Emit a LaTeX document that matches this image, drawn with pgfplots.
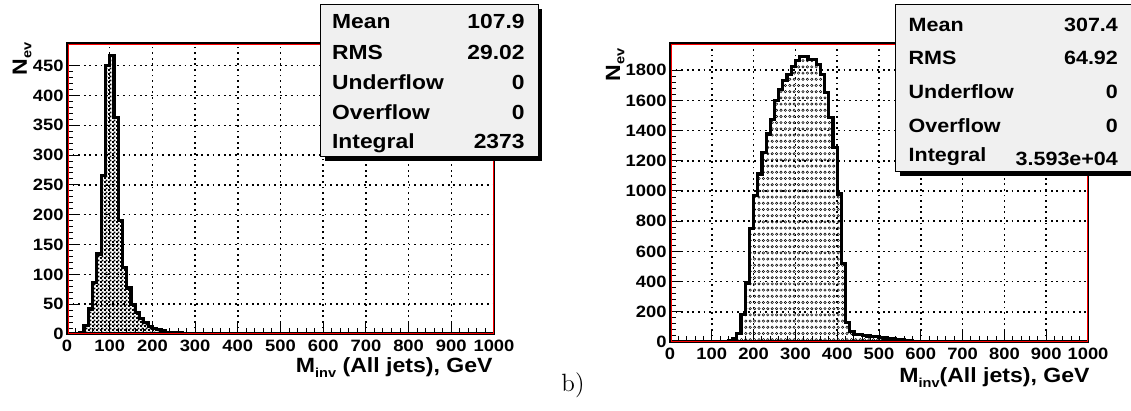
\documentclass[border=0pt]{standalone}
\usepackage{pgfplots}
\pgfplotsset{compat=1.18}
\usepackage{fontspec}
\usetikzlibrary{patterns}
\newfontfamily\rootfont{Liberation Sans}[FakeStretch=1.12]
\definecolor{statbg}{RGB}{240,240,240}

\newcommand\rf[1]{\rootfont\bfseries\fontsize{#1}{#1}\selectfont}
\newcommand\sub[1]{\raisebox{-2.2pt}{\fontsize{6.5}{7}\selectfont #1}}

% ROOT-like fill styles
\pgfdeclarepatternformonly{rootcheck}{\pgfpointorigin}{\pgfqpoint{2pt}{2pt}}{\pgfqpoint{2pt}{2pt}}{%
  \pgfpathrectangle{\pgfpointorigin}{\pgfqpoint{1.1pt}{1.1pt}}%
  \pgfpathrectangle{\pgfqpoint{1pt}{1pt}}{\pgfqpoint{1.1pt}{1.1pt}}%
  \pgfusepath{fill}}
\pgfdeclarepatternformonly{rootcirc}{\pgfqpoint{-0.1pt}{-0.1pt}}{\pgfqpoint{2.4pt}{3.2pt}}{\pgfqpoint{2.2pt}{3.1pt}}{%
  \pgfsetlinewidth{0.25pt}%
  \pgfpathcircle{\pgfqpoint{1.1pt}{1.55pt}}{0.6pt}%
  \pgfusepath{stroke}}

\pgfplotsset{
  rootaxis/.style={
    scale only axis, anchor=south west,
    xmin=0, xmax=1000, ymin=0,
    xtick={0,100,...,1000},
    minor x tick num=4, minor y tick num=4,
    tick pos=left, tick align=inside,
    major tick length=6pt, minor tick length=3pt,
    tick style={black, line width=0.5pt},
    grid=major,
    major grid style={black, line width=0.75pt, dash pattern=on 0.9pt off 1.9pt},
    axis line style={black, line width=1.3pt},
    tick label style={font=\rf{8.2}, inner sep=1.5pt},
    xticklabel style={yshift=-1.2pt},
    /pgf/number format/assume math mode=true,
    /pgf/number format/1000 sep={},
    after end axis/.code={\draw[red, line width=0.3pt]
      ([shift={(0.45pt,0.45pt)}]rel axis cs:0,0) rectangle ([shift={(-0.45pt,-0.45pt)}]rel axis cs:1,1);},
  },
}

\begin{document}
\begin{tikzpicture}
\begin{axis}[rootaxis, at={(33.5pt,38.5pt)}, width=213.5pt, height=145.5pt,
  ymax=488, ytick={0,50,...,450}]
\addplot[const plot, draw=black, line width=1.6pt, pattern=rootcheck, pattern color=black]
  coordinates {(0,0) (20,1) (30,2) (40,14) (50,42) (60,86) (70,134) (80,266) (90,450)
  (100,467) (110,363) (120,190) (130,111) (140,77) (150,50) (160,36) (170,26) (180,19)
  (190,13) (200,9) (210,7) (220,5) (230,3) (240,3) (250,2) (260,2) (270,1) (280,1)
  (290,1) (300,1) (310,0) (1000,0)} \closedcycle;
\end{axis}

\begin{axis}[rootaxis, at={(335pt,34.5pt)}, width=209pt, height=149.5pt,
  ymax=1980, ytick={0,200,...,1800}]
\addplot[const plot, draw=black, line width=1.6pt, pattern=rootcirc, pattern color=black]
  coordinates {(0,0) (130,3) (140,8) (150,25) (160,55) (170,180) (180,390) (190,749)
  (200,969) (210,1112) (220,1256) (230,1377) (240,1472) (250,1601) (260,1674) (270,1734)
  (280,1773) (290,1822) (300,1862) (310,1888) (320,1888) (330,1873) (340,1873) (350,1835)
  (360,1773) (370,1652) (380,1487) (390,1289) (400,980) (410,518) (420,130) (430,68)
  (440,52) (450,48) (460,44) (470,40) (480,37) (490,34) (500,30) (510,27) (520,24)
  (530,21) (540,18) (550,14) (560,11) (570,8) (580,5) (590,3) (600,0) (1000,0)} \closedcycle;
\end{axis}

\begin{scope}[shift={(0,205.5pt)}, x=0.5pt, y=-0.5pt]
  % axis titles
  \node[rotate=90, anchor=base east, inner sep=0pt, font=\rf{10.3}] at (27,42) {N\sub{ev}};
  \node[rotate=90, anchor=base east, inner sep=0pt, font=\rf{10.3}] at (620,48) {N\sub{ev}};
  \node[anchor=base east, inner sep=0pt, font=\rf{10.3}] at (493,373) {M\sub{inv} (All jets), GeV};
  \node[anchor=base east, inner sep=0pt, font=\rf{10.3}] at (1090,383) {M\sub{inv}(All jets), GeV};
  \node[anchor=base west, inner sep=0pt, font=\fontsize{12.5}{15}\selectfont] at (561,392) {b)};
  % stats box, left
  \fill[black] (324.7,9) rectangle (541.7,161);
  \filldraw[fill=statbg, draw=black, line width=0.5pt] (320.7,5) rectangle (538,157);
  \foreach \t/\v/\yy in {Mean/107.9/29, RMS/29.02/60, Underflow/0/90, Overflow/0/120, Integral/2373/149} {
    \node[anchor=base west, inner sep=0pt, font=\rf{10.2}] at (331.7,\yy) {\t};
    \node[anchor=base east, inner sep=0pt, font=\rf{10.2}] at (525,\yy) {\v};
  }
  % stats box, right
  \fill[black] (899.7,9) rectangle (1136,176);
  \filldraw[fill=statbg, draw=black, line width=0.5pt] (895.7,5) rectangle (1131.5,172);
  \foreach \t/\v/\yy/\yv in {Mean/307.4/31.5/31.5, RMS/64.92/65/65, Underflow/0/99/99, Overflow/0/132.5/132.5, Integral/3.593e+04/162/166} {
    \node[anchor=base west, inner sep=0pt, font=\rf{9.6}] at (908.3,\yy) {\t};
    \node[anchor=base east, inner sep=0pt, font=\rf{9.6}] at (1118.3,\yv) {\v};
  }
\end{scope}
\pgfresetboundingbox
\path[use as bounding box] (0,0) rectangle (565.5pt,205.5pt);
\end{tikzpicture}
\end{document}
